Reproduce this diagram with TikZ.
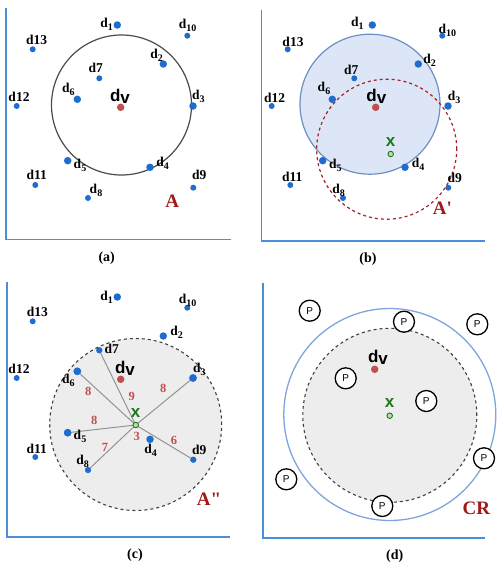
\documentclass[tikz,border=0pt]{standalone}
\usepackage{fontspec}
\setmainfont{Liberation Serif}
\newfontfamily\sansf{Liberation Sans}
\newfontfamily\rawserif[Ligatures=ResetAll]{Liberation Serif}
\definecolor{dotblue}{HTML}{1F6CCF}
\definecolor{axisblue}{HTML}{4A8FDA}
\definecolor{dvred}{HTML}{C0504D}
\definecolor{darkred}{HTML}{A01818}
\definecolor{xgreen}{HTML}{1C7A1C}
\definecolor{ogreen}{HTML}{B8E0A8}
\definecolor{fillblue}{HTML}{DCE6F6}
\definecolor{edgeblue}{HTML}{6E8FC4}
\definecolor{crblue}{HTML}{7FA5DC}
\definecolor{dashred}{HTML}{A52222}
\definecolor{numred}{HTML}{C0504D}
\definecolor{grayfill}{HTML}{EDEDED}
\newcommand\dsb[1]{d\raisebox{-0.45ex}{\fontsize{10}{10}\selectfont #1}}
\newcommand\dvtext{{\sansf\bfseries d\raisebox{-0.25ex}{v}}}
\newcommand\placepts[1]{%
 \node[bigdot] (#1d1) at (117.3,25) {};
 \node[bigdot] (#1d2) at (163.3,64) {};
 \node[bigdot] (#1d3) at (193,106) {};
 \node[bigdot] (#1d4) at (150,167.3) {};
 \node[bigdot] (#1d5) at (67.7,160.7) {};
 \node[bigdot] (#1d6) at (77.3,99.3) {};
 \node[smalldot] (#1d7) at (99.3,78.3) {};
 \node[smalldot] (#1d8) at (88,198) {};
 \node[smalldot] (#1d9) at (193.3,187.7) {};
 \node[smalldot] (#1d10) at (187.3,35.7) {};
 \node[smalldot] (#1d11) at (35.3,185) {};
 \node[smalldot] (#1d12) at (16.7,106) {};
 \node[smalldot] (#1d13) at (32.7,49.3) {};
 \node[dvdot] (#1dv) at (120.7,107.3) {};
}
\tikzset{
 bigdot/.style={circle, fill=dotblue, inner sep=0pt, minimum size=7.5pt},
 smalldot/.style={circle, fill=dotblue, inner sep=0pt, minimum size=6pt},
 dvdot/.style={circle, fill=dvred, inner sep=0pt, minimum size=7.5pt},
 odot/.style={circle, draw=xgreen, fill=ogreen, line width=0.9pt, inner sep=0pt, minimum size=5.5pt},
 lbl/.style={font=\fontsize{13.5}{14}\selectfont\bfseries, inner sep=0pt},
 dvlbl/.style={font=\fontsize{17}{18}\selectfont, inner sep=0pt},
 xlbl/.style={font=\sansf\bfseries\fontsize{17}{18}\selectfont, text=xgreen, inner sep=0pt},
 reglbl/.style={font=\rawserif\fontsize{19}{20}\selectfont\bfseries, text=darkred, inner sep=0pt},
 captxt/.style={font=\fontsize{14}{15}\selectfont\bfseries, inner sep=0pt},
 num/.style={font=\fontsize{12.5}{13}\selectfont\bfseries, text=numred, inner sep=0pt},
 axisline/.style={draw=axisblue, line width=1.6pt},
 spoke/.style={draw=gray!85, line width=1pt},
 pnode/.style={circle, draw=black, line width=1.3pt, fill=white, inner sep=0pt, minimum size=21pt, font=\sansf\fontsize{10}{10}\selectfont},
}
\begin{document}
\begin{tikzpicture}[x=1pt, y=-1pt]
\useasboundingbox (0,0) rectangle (496,565);
% axes
\coordinate (aT) at (6,8); \coordinate (aO) at (6,239.3); \coordinate (aR) at (231,239.3);
\draw[axisline] (aT) -- (aO) -- (aR);
\coordinate (bT) at (261.3,10); \coordinate (bO) at (261.3,240.7); \coordinate (bR) at (485,240.7);
\draw[axisline] (bT) -- (bO) -- (bR);
\coordinate (cT) at (6.7,281.7); \coordinate (cO) at (6.7,536.7); \coordinate (cR) at (230,536.7);
\draw[axisline] (cT) -- (cO) -- (cR);
\coordinate (dT) at (263,282.7); \coordinate (dO) at (263,537.7); \coordinate (dR) at (485.3,537.7);
\draw[axisline] (dT) -- (dO) -- (dR);

% ---------- panel (a)
\begin{scope}
 \node[circle, draw=black!70, line width=1.2pt, minimum size=140pt, inner sep=0pt] (circA) at (121.5,105) {};
 \placepts{a}
 \node[lbl] (al1) at (106.7,24) {\dsb{1}};
 \node[lbl] (al10) at (187.7,25) {\dsb{10}};
 \node[lbl] (al13) at (36.7,40) {d13};
 \node[lbl] (al2) at (156.7,55) {\dsb{2}};
 \node[lbl] (al7) at (95.7,68.3) {d7};
 \node[lbl] (al6) at (68.3,89.3) {\dsb{6}};
 \node[dvlbl] (aldv) at (120,96.7) {\dvtext};
 \node[lbl] (al12) at (19,96.7) {d12};
 \node[lbl] (al3) at (198.3,96.7) {\dsb{3}};
 \node[lbl] (al5) at (80,165.7) {\dsb{5}};
 \node[lbl] (al4) at (162.7,163.3) {\dsb{4}};
 \node[lbl] (al11) at (36.7,175) {d11};
 \node[lbl] (al9) at (199.3,175) {d9};
 \node[lbl] (al8) at (96,190) {\dsb{8}};
 \node[reglbl] (aA) at (172.3,201) {A};
 \node[captxt] (acap) at (106.7,258.3) {(a)};
\end{scope}

% ---------- panel (b)
\begin{scope}[shift={(255,0)}]
 \node[circle, draw=edgeblue, fill=fillblue, line width=1.2pt, minimum size=140pt, inner sep=0pt] (circB) at (115,104.2) {};
 \node[circle, draw=dashred, dashed, line width=1.2pt, minimum size=140pt, inner sep=0pt] (circBp) at (131.7,149.2) {};
 \placepts{b}
 \node[lbl] (bl1) at (102.3,23.3) {\dsb{1}};
 \node[lbl] (bl10) at (192.3,30) {\dsb{10}};
 \node[lbl] (bl13) at (38,41.7) {d13};
 \node[lbl] (bl2) at (174.7,60) {\dsb{2}};
 \node[lbl] (bl7) at (96.3,70) {d7};
 \node[lbl] (bl6) at (69,88.3) {\dsb{6}};
 \node[dvlbl] (bldv) at (121.3,96.7) {\dvtext};
 \node[lbl] (bl12) at (19.7,98.3) {d12};
 \node[lbl] (bl3) at (199,97.7) {\dsb{3}};
 \node[lbl] (bl5) at (80.3,165.7) {\dsb{5}};
 \node[lbl] (bl4) at (163,164) {\dsb{4}};
 \node[lbl] (bl11) at (37.3,176.7) {d11};
 \node[lbl] (bl9) at (199.7,178.3) {d9};
 \node[lbl] (bl8) at (83.7,190) {\dsb{8}};
 \node[xlbl] (bx) at (135.7,142.5) {x};
 \node[odot] (bo) at (135.7,154) {};
 \node[reglbl] (bA) at (187.3,208.3) {A'};
 \node[captxt] (bcap) at (113,259.3) {(b)};
\end{scope}

% ---------- panel (c)
\begin{scope}[shift={(0,272)}]
 \node[circle, draw=black!75, fill=grayfill, dashed, line width=1.1pt, minimum size=172pt, inner sep=0pt] (circC) at (135.7,152.5) {};
 \coordinate (co) at (135.7,153);
 \placepts{c}
 \draw[spoke] (co) -- (cd7);
 \draw[spoke] (co) -- (cd6);
 \draw[spoke] (co) -- (cd3);
 \draw[spoke] (co) -- (cd5);
 \draw[spoke] (co) -- (cd8);
 \draw[spoke] (co) -- (cd9);
 \node[bigdot] at (cd6) {};
 \node[bigdot] at (cd3) {};
 \node[bigdot] at (cd5) {};
 \node[smalldot] at (cd7) {};
 \node[smalldot] at (cd8) {};
 \node[smalldot] at (cd9) {};
 \node[odot] (cox) at (co) {};
 \node[lbl] (cl1) at (106.7,25.3) {\dsb{1}};
 \node[lbl] (cl10) at (187.7,28) {\dsb{10}};
 \node[lbl] (cl13) at (37.3,39.7) {d13};
 \node[lbl] (cl2) at (176.7,60.7) {\dsb{2}};
 \node[lbl] (cl7) at (111.7,77.3) {d7};
 \node[lbl] (cl6) at (68.3,108) {\dsb{6}};
 \node[dvlbl] (cldv) at (125,96.3) {\dvtext};
 \node[lbl] (cl12) at (19,97.3) {d12};
 \node[lbl] (cl3) at (199.3,97.3) {\dsb{3}};
 \node[lbl] (cl5) at (80,164.7) {\dsb{5}};
 \node[lbl] (cl11) at (36.7,177.3) {d11};
 \node[lbl] (cl4) at (150.7,178) {\dsb{4}};
 \node[lbl] (cl9) at (199.3,178) {d9};
 \node[lbl] (cl8) at (82.7,189) {\dsb{8}};
 \node[xlbl] (cx) at (135.5,141) {x};
 \node[num] (n6a) at (88.3,119.7) {8};
 \node[num] (n7a) at (131.7,124) {9};
 \node[num] (n3a) at (163.3,116.3) {8};
 \node[num] (n5a) at (94.3,148.7) {8};
 \node[num] (n4a) at (136.7,164.7) {3};
 \node[num] (n8a) at (105,175.3) {7};
 \node[num] (n9a) at (174,168.7) {6};
 \node[reglbl] (cA) at (209,227.3) {A"};
 \node[captxt] (ccap) at (135,283) {(c)};
\end{scope}

% ---------- panel (d)
\node[circle, draw=crblue, line width=1.3pt, minimum size=212pt, inner sep=0pt] (circCR) at (389.8,414.5) {};
\node[circle, draw=black!75, fill=grayfill, dashed, line width=1.1pt, minimum size=174pt, inner sep=0pt] (circD) at (389.8,415.3) {};
\node[pnode] (p1) at (309.7,310.7) {P};
\node[pnode] (p2) at (404,321.7) {P};
\node[pnode] (p3) at (477.3,324.3) {P};
\node[pnode] (p4) at (345.7,378.3) {P};
\node[pnode] (p5) at (426.3,401) {P};
\node[pnode] (p6) at (484,458.3) {P};
\node[pnode] (p7) at (286.3,479.3) {P};
\node[pnode] (p8) at (382.3,506) {P};
\node[dvdot] (ddv) at (374.7,369.3) {};
\node[dvlbl] (dldv) at (378,357.3) {\dvtext};
\node[xlbl] (dx) at (389.7,403.3) {x};
\node[odot] (do) at (389.7,415.7) {};
\node[reglbl] (dCR) at (476.3,508.3) {CR};
\node[captxt] (dcap) at (394.7,556) {(d)};
\end{tikzpicture}
\end{document}
